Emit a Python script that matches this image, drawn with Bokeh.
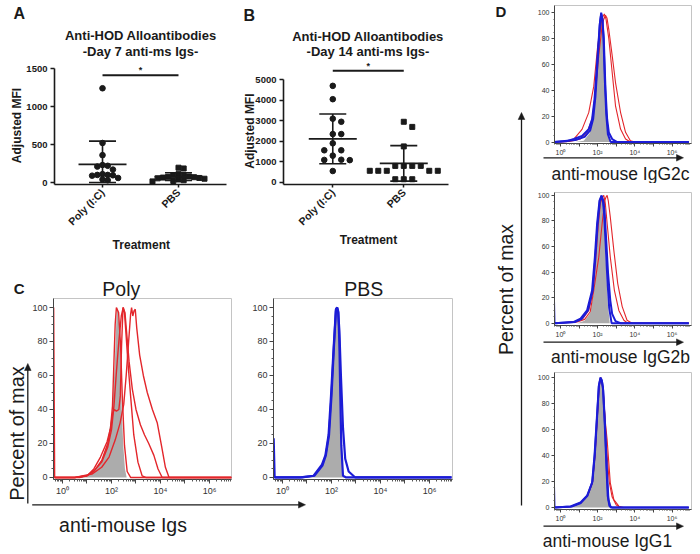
import math
import numpy as np
from bokeh.plotting import figure
from bokeh.models import Label, FixedTicker, Range1d
from bokeh.core.properties import value
from bokeh.layouts import row, column
from bokeh.embed import file_html
from bokeh.resources import INLINE

FONT = "Liberation Sans"
INK = "#1a1a1a"
RED = "#e3262b"
BLUE = "#1c1cd6"
GRAY = "#acacac"

# ---------------- data: panels A and B (Adjusted MFI) ----------------
groups = ["Poly (I:C)", "PBS"]
day7_poly = [1240, 520, 360, 230, 220, 210, 170, 110, 100, 100, 95, 90, 60, 40, 30]
day7_pbs = [195, 185, 110, 100, 95, 80, 75, 70, 65, 60, 55, 50, 40, 30, 20, 15]
day14_poly = [4700, 4050, 3100, 2950, 2350, 2350, 1900, 1560, 1560, 1300, 1100, 1090, 1080, 550]
day14_pbs = [2950, 2700, 1750, 800, 800, 800, 800, 560, 560, 560, 560, 560, 150, 150, 150]
day7_ticks = [0, 500, 1000, 1500]
day14_ticks = [0, 1000, 2000, 3000, 4000, 5000]
day7_sig = 1410
day14_sig = 5430

# ---------------- data: histograms (x = log10 intensity, y = % of max) ----------------
hist_y_ticks = [0, 20, 40, 60, 80, 100]
decades = [0, 1, 2, 3, 4, 5, 6]
decade_labels = {0: "10\u2070", 2: "10\u00b2", 4: "10\u2074", 6: "10\u2076"}

# C - Poly
cpoly_gray_x = [-0.3, 0.5, 0.9, 1.3, 1.6, 1.82, 2.02, 2.14, 2.2, 2.23, 2.27, 2.33, 2.40, 2.48, 2.55, 2.62, 6.9]
cpoly_gray_y = [0, 0, 1, 4, 10, 20, 38, 68, 93, 100, 97, 87, 48, 19, 5, 0, 0]
cpoly_r1_x = [-0.36, -0.36, -0.32, 0.7, 1.0, 1.28, 1.55, 1.82, 1.96, 2.04, 2.10, 2.15, 2.2, 2.29, 2.37, 2.44, 2.53, 2.64, 2.78, 6.9]
cpoly_r1_y = [0, 100, 0, 0, 1, 5, 12, 21, 29, 42, 68, 90, 100, 97, 78, 48, 19, 3.5, 0, 0]
cpoly_r2_x = [-0.32, 0.5, 1.0, 1.3, 1.6, 1.85, 1.98, 2.05, 2.12, 2.2, 2.3, 2.36, 2.41, 2.47, 2.53, 2.58, 2.67, 2.78, 2.91, 3.08, 3.25, 3.4, 6.9]
cpoly_r2_y = [0, 0, 1, 4, 10, 20, 30, 38, 40, 39, 40, 48, 77, 100, 97, 87, 68, 48, 25, 9, 1, 0, 0]
cpoly_r3_x = [-0.32, 0.5, 1.0, 1.3, 1.6, 1.85, 2.0, 2.1, 2.2, 2.3, 2.4, 2.48, 2.55, 2.62, 2.72, 2.85, 3.0, 3.18, 3.35, 3.52, 3.73, 3.9, 4.07, 6.9]
cpoly_r3_y = [0, 0, 1, 4, 9, 18, 28, 42, 62, 80, 95, 100, 97, 85, 68, 52, 40, 31, 25, 20, 13, 5, 0, 0]
cpoly_r4_x = [-0.32, 0.5, 1.2, 1.6, 1.9, 2.15, 2.35, 2.5, 2.6, 2.7, 2.78, 2.82, 2.87, 2.92, 2.97, 3.03, 3.15, 3.3, 3.46, 3.67, 3.87, 4.05, 4.2, 4.35, 6.9]
cpoly_r4_y = [0, 0, 2, 6, 12, 22, 32, 43, 60, 80, 96, 100, 95, 98, 99, 88, 72, 60, 50, 40, 32, 18, 6, 0, 0]

# C - PBS
cpbs_gray_x = [-0.3, 0.7, 1.27, 1.61, 1.75, 1.88, 1.98, 2.09, 2.18, 2.23, 2.28, 2.33, 2.37, 2.41, 2.46, 2.52, 6.9]
cpbs_gray_y = [0, 0, 1, 6, 11, 22, 44, 74, 97, 100, 96, 80, 50, 20, 4, 0, 0]
cpbs_b1_x = [-0.36, -0.36, -0.32, 0.73, 1.27, 1.61, 1.75, 1.88, 1.98, 2.09, 2.18, 2.23, 2.27, 2.32, 2.39, 2.47, 2.56, 2.70, 2.97, 6.9]
cpbs_b1_y = [0, 23, 0, 0, 1, 7.6, 13, 25, 48, 77, 99, 100, 98, 87, 58, 29, 11, 3.5, 0, 0]
cpbs_b2_x = [-0.32, 0.8, 1.3, 1.63, 1.77, 1.9, 2.0, 2.1, 2.18, 2.23, 2.28, 2.32, 2.36, 2.40, 2.47, 2.6, 6.9]
cpbs_b2_y = [0, 0, 1, 7, 13, 25, 48, 77, 98, 100, 97, 80, 48, 19, 1, 0, 0]

# D - IgG2c
d1_gray_x = [-0.3, 0.8, 1.25, 1.58, 1.79, 1.94, 2.05, 2.15, 2.19, 2.26, 2.33, 2.40, 2.47, 2.55, 2.62, 2.72, 6.9]
d1_gray_y = [0, 0, 1, 7, 29, 54, 80, 96, 100, 94, 78, 52, 29, 12, 4, 0, 0]
d1_b1_x = [-0.33, 0.3, 0.72, 1.16, 1.52, 1.70, 1.83, 1.97, 2.11, 2.19, 2.26, 2.33, 2.42, 2.51, 2.6, 2.78, 3.05, 6.9]
d1_b1_y = [0, 0.5, 2.3, 4.7, 9.8, 17.6, 33, 61, 90, 100, 94, 80, 41, 17.6, 7.4, 2.3, 0, 0]
d1_b2_x = [-0.33, 0.8, 1.3, 1.6, 1.76, 1.88, 2.0, 2.12, 2.19, 2.25, 2.31, 2.38, 2.46, 2.55, 2.7, 6.9]
d1_b2_y = [0, 1.5, 4, 9, 18, 35, 63, 92, 99, 96, 82, 50, 22, 6, 0, 0]
d1_r1_x = [-0.35, -0.35, -0.32, 0.5, 1.07, 1.43, 1.70, 1.88, 2.06, 2.24, 2.33, 2.42, 2.5, 2.6, 2.78, 2.96, 3.23, 3.5, 3.76, 4.0, 6.9]
d1_r1_y = [0, 100, 0, 0.5, 2.3, 7.5, 17.6, 38, 67, 90, 95, 98, 96, 87, 67, 46, 23, 7.5, 1, 0, 0]
d1_r2_x = [-0.32, 0.4, 0.72, 1.16, 1.52, 1.79, 2.0, 2.24, 2.36, 2.45, 2.6, 2.78, 2.96, 3.23, 3.5, 3.76, 6.9]
d1_r2_y = [0, 0.5, 2.3, 9.8, 22.7, 43, 74, 96, 99, 95, 80, 54, 28, 10, 2.3, 0, 0]

# D - IgG2b
d2_gray_x = [-0.3, 0.9, 1.3, 1.6, 1.8, 1.93, 2.05, 2.15, 2.21, 2.28, 2.36, 2.45, 2.55, 2.65, 6.9]
d2_gray_y = [0, 0, 2, 8, 25, 52, 80, 96, 100, 95, 78, 45, 15, 0, 0]
d2_b1_x = [-0.35, -0.35, -0.32, 0.72, 1.08, 1.43, 1.70, 1.85, 1.97, 2.10, 2.21, 2.30, 2.37, 2.46, 2.56, 2.68, 2.78, 2.96, 3.23, 6.9]
d2_b1_y = [0, 20, 0, 1, 3.6, 10, 25.6, 51.7, 77.8, 96, 100, 96, 88, 65, 39, 17.7, 7.3, 1.6, 0, 0]
d2_b2_x = [-0.32, 0.8, 1.15, 1.48, 1.74, 1.88, 2.0, 2.12, 2.21, 2.29, 2.35, 2.43, 2.52, 2.62, 2.75, 6.9]
d2_b2_y = [0, 1, 3.5, 10, 26, 52, 78, 96, 99, 95, 85, 62, 35, 12, 0, 0]
d2_r1_x = [-0.32, 0.8, 1.2, 1.52, 1.76, 1.9, 2.03, 2.15, 2.27, 2.33, 2.41, 2.51, 2.68, 2.9, 3.14, 3.41, 3.62, 6.9]
d2_r1_y = [0, 1, 3.5, 10, 25, 50, 76, 94, 99, 100, 94, 78, 51.7, 25.6, 10, 2.3, 0, 0]
d2_r2_x = [-0.32, 0.9, 1.3, 1.6, 1.79, 2.06, 2.24, 2.38, 2.46, 2.51, 2.57, 2.68, 2.87, 3.08, 3.32, 3.58, 3.85, 6.9]
d2_r2_y = [0, 1, 3, 9, 25.6, 51.7, 77.8, 96, 99, 100, 96, 83, 57, 31, 13, 2.3, 0, 0]

# D - IgG1
d3_gray_x = [-0.3, 0.6, 1.1, 1.45, 1.72, 1.85, 1.96, 2.07, 2.15, 2.22, 2.3, 2.4, 2.5, 2.6, 2.72, 6.9]
d3_gray_y = [0, 0.5, 3, 8, 18, 38, 64, 92, 99, 97, 88, 62, 32, 10, 0, 0]
d3_b1_x = [-0.35, -0.35, -0.32, 0.54, 1.08, 1.43, 1.70, 1.83, 1.94, 2.06, 2.15, 2.22, 2.28, 2.38, 2.47, 2.54, 2.63, 2.78, 6.9]
d3_b1_y = [0, 19, 0, 0.8, 3.8, 9, 19, 39.7, 65, 93, 100, 98, 93, 65, 32, 9, 1.3, 0, 0]
d3_b2_x = [-0.32, 0.6, 1.1, 1.45, 1.72, 1.85, 1.96, 2.07, 2.15, 2.23, 2.3, 2.4, 2.5, 2.58, 2.7, 6.9]
d3_b2_y = [0, 0.8, 3.5, 9, 20, 41, 67, 94, 99, 97, 90, 62, 28, 6, 0, 0]
d3_r1_x = [-0.32, 0.6, 1.1, 1.45, 1.72, 1.86, 1.97, 2.08, 2.16, 2.24, 2.32, 2.42, 2.51, 2.68, 2.87, 3.14, 3.4, 6.9]
d3_r1_y = [0, 0.8, 3.8, 9, 19, 40, 66, 93, 100, 96, 85, 65, 52, 19, 6, 1, 0, 0]
d3_r2_x = [-0.32, 0.6, 1.1, 1.45, 1.72, 1.85, 1.96, 2.07, 2.15, 2.23, 2.31, 2.4, 2.5, 2.62, 2.78, 3.0, 3.25, 6.9]
d3_r2_y = [0, 0.8, 3.5, 9, 19, 40, 65, 93, 99, 97, 88, 66, 42, 20, 8, 2, 0, 0]


# ---------------- helpers ----------------
def new_fig(w, h, bl, br, bt, bb, xr, yr, ox, oy):
    """Figure placed at page pixel (ox, oy); keeps its frame geometry."""
    p = figure(width=w, height=h, x_range=Range1d(*xr), y_range=Range1d(*yr),
               output_backend="svg", toolbar_location=None,
               min_border_left=bl, min_border_right=br, min_border_top=bt,
               min_border_bottom=bb)
    p.grid.visible = False
    fw = w - bl - br
    fh = h - bt - bb
    g = dict(fl=ox + bl, fb=oy + bt + fh, x0=xr[0], y0=yr[0],
             xpx=fw / (xr[1] - xr[0]), ypx=fh / (yr[1] - yr[0]))
    return p, g


def to_data(g, px, py):
    return g["x0"] + (px - g["fl"]) / g["xpx"], g["y0"] + (g["fb"] - py) / g["ypx"]


def add_text(p, g, x, y, text, size, bold=False, align="center", angle=0.0, color=INK):
    """(x, y) is the visual centre line of the text."""
    xd, yd = to_data(g, x, y)
    p.text(x=[xd], y=[yd], text=[text], text_font=value(FONT),
           text_font_size=value(f"{size}px"),
           text_font_style="bold" if bold else "normal",
           text_align=align, text_baseline="middle", angle=angle,
           text_color=color, level="overlay")


def add_arrow(p, g, x0, y0, x1, y1, head=True, width=1.3, hl=7.0, hw=3.3):
    L = math.hypot(x1 - x0, y1 - y0)
    ux, uy = (x1 - x0) / L, (y1 - y0) / L
    ex, ey = (x1 - ux * (hl - 1), y1 - uy * (hl - 1)) if head else (x1, y1)
    a = to_data(g, x0, y0)
    b = to_data(g, ex, ey)
    p.segment(x0=[a[0]], y0=[a[1]], x1=[b[0]], y1=[b[1]], line_color=INK,
              line_width=width, level="overlay")
    if head:
        bx, by = x1 - ux * hl, y1 - uy * hl
        pts = [(x1, y1), (bx - uy * hw, by + ux * hw), (bx + uy * hw, by - ux * hw)]
        dp = [to_data(g, px, py) for px, py in pts]
        p.patch([q[0] for q in dp], [q[1] for q in dp], fill_color=INK,
                line_color=INK, line_width=0.5, level="overlay")


def swarm(vals, center, xpx, ypx, diam):
    step = diam * 0.5
    order = sorted(range(len(vals)), key=lambda i: -vals[i])
    placed = []
    xs = [center] * len(vals)

    def candidates():
        yield 0.0
        k = 1
        while True:
            yield k * step
            yield -k * step
            k += 1

    for i in order:
        yv = vals[i] * ypx
        for off in candidates():
            if all(math.hypot(off - a, yv - b) >= diam for a, b in placed):
                break
        placed.append((off, yv))
        xs[i] = center + off / xpx
    return xs


def scatter_panel(w, h, bl, br, bt, bb, xr, yr, ox, oy, yticks, poly, pbs, sig_y, diam):
    p, g = new_fig(w, h, bl, br, bt, bb, xr, yr, ox, oy)
    p.outline_line_color = None
    xpx, ypx = g["xpx"], g["ypx"]
    for gi, (vals, marker, size) in enumerate([(poly, "circle", 5.6), (pbs, "square", 5.0)]):
        c = gi + 0.5
        xs = swarm(vals, c, xpx, ypx, diam)
        p.scatter(xs, vals, marker=marker, size=size, color=INK)
        m = float(np.mean(vals))
        s = float(np.std(vals, ddof=1))
        lo = max(m - s, 0.0)
        hi = m + s
        mw = 24 / xpx
        cw = 13.5 / xpx
        p.segment(x0=[c, c - mw, c - cw, c - cw], y0=[lo, m, hi, lo],
                  x1=[c, c + mw, c + cw, c + cw], y1=[hi, m, hi, lo],
                  line_color=INK, line_width=1.6)
    p.segment(x0=[0.5], y0=[sig_y], x1=[1.5], y1=[sig_y], line_color=INK, line_width=2)
    p.add_layout(Label(x=1.0, y=sig_y, text="*", text_font=FONT, text_font_size="9px",
                       text_font_style="bold", text_align="center",
                       text_baseline="middle", y_offset=5, text_color=INK))
    xa = p.xaxis[0]
    xa.ticker = FixedTicker(ticks=[0.5, 1.5])
    xa.major_label_overrides = {0.5: groups[0], 1.5: groups[1]}
    xa.major_label_orientation = math.pi / 4
    ya = p.yaxis[0]
    ya.ticker = FixedTicker(ticks=yticks)
    ya.bounds = (yr[0], yticks[-1])
    for ax in (xa, ya):
        ax.axis_line_width = 1.6
        ax.axis_line_color = INK
        ax.major_tick_line_color = INK
        ax.major_tick_line_width = 1.5
        ax.major_tick_in = 0
        ax.minor_tick_line_color = None
        ax.major_label_text_font = FONT
        ax.major_label_text_font_style = "bold"
        ax.major_label_text_color = INK
        ax.major_label_standoff = 3
    xa.major_tick_out = 3
    ya.major_tick_out = 4
    xa.major_label_text_font_size = "10.5px"
    ya.major_label_text_font_size = "9.5px"
    return p, g


log_minor = [n + math.log10(k) for n in range(-1, 7) for k in range(2, 10)]
y_minor = [v for v in range(5, 100, 5) if v % 20]


def hist_panel(w, h, bl, br, bt, bb, yr, decade_px, x0, ox, oy, fsize, tick, minor_tick):
    fw = w - bl - br
    p, g = new_fig(w, h, bl, br, bt, bb, (x0, x0 + fw / decade_px), yr, ox, oy)
    p.outline_line_color = "#c4c4c4"
    xa = p.xaxis[0]
    ya = p.yaxis[0]
    xa.ticker = FixedTicker(ticks=decades, minor_ticks=log_minor)
    xa.major_label_overrides = {d: decade_labels.get(d, "") for d in decades}
    ya.ticker = FixedTicker(ticks=hist_y_ticks, minor_ticks=y_minor)
    for ax in (xa, ya):
        ax.axis_line_color = "#444444"
        ax.axis_line_width = 1
        ax.major_tick_line_color = "#444444"
        ax.minor_tick_line_color = "#555555"
        ax.major_tick_in = 0
        ax.minor_tick_in = 0
        ax.major_tick_out = tick
        ax.minor_tick_out = minor_tick
        ax.major_label_text_font = FONT
        ax.major_label_text_font_size = f"{fsize}px"
        ax.major_label_text_color = "#333333"
        ax.major_label_standoff = 2
    return p, g


def draw_hist(p, gray, reds, blues, red_w, blue_w):
    p.varea(x=gray[0], y1=0, y2=gray[1], fill_color=GRAY, fill_alpha=1)
    for xs, ys in reds:
        p.line(xs, ys, line_color=RED, line_width=red_w)
    for xs, ys in blues:
        p.line(xs, ys, line_color=BLUE, line_width=blue_w)


# ---------------- panel A ----------------
pa, ga = scatter_panel(230, 270, 54, 4, 62, 86, (-0.132, 2.132), (-26, 1579), 0, 0,
                       day7_ticks, day7_poly, day7_pbs, day7_sig, 5.2)
add_text(pa, ga, 13, 12.5, "A", 16, bold=True, align="left")
add_text(pa, ga, 140.3, 34.8, "Anti-HOD Alloantibodies", 13, bold=True)
add_text(pa, ga, 140, 50.5, "-Day 7 anti-ms Igs-", 13, bold=True)
add_text(pa, ga, 16.7, 125, "Adjusted MFI", 12, bold=True, angle=math.pi / 2)
add_text(pa, ga, 140.8, 244.8, "Treatment", 12, bold=True)

# ---------------- panel B ----------------
pb, gb = scatter_panel(230, 270, 53, 12, 62, 80, (-0.194, 2.13), (-107, 5838), 230, 0,
                       day14_ticks, day14_poly, day14_pbs, day14_sig, 8.5)
add_text(pb, gb, 243, 12.5, "B", 16, bold=True, align="left")
add_text(pb, gb, 367.5, 34.8, "Anti-HOD Alloantibodies", 13, bold=True)
add_text(pb, gb, 367.5, 50.5, "-Day 14 anti-ms Igs-", 13, bold=True)
add_text(pb, gb, 249.3, 134, "Adjusted MFI", 12, bold=True, angle=math.pi / 2)
add_text(pb, gb, 368, 247.8, "Treatment", 12, bold=True)

# ---------------- panel C ----------------
pc1, gc1 = hist_panel(240, 284, 53, 9, 28, 75, (-1.2, 105.3), 24.5, -0.367, 0, 270, 9, 4, 2)
draw_hist(pc1, (cpoly_gray_x, cpoly_gray_y),
          [(cpoly_r1_x, cpoly_r1_y), (cpoly_r2_x, cpoly_r2_y),
           (cpoly_r3_x, cpoly_r3_y), (cpoly_r4_x, cpoly_r4_y)], [], 1.4, 2.2)
add_text(pc1, gc1, 13.3, 288, "C", 15, bold=True, align="left")
add_text(pc1, gc1, 120.8, 288.2, "Poly", 19.5)
add_text(pc1, gc1, 16.7, 433, "Percent of max", 20, angle=math.pi / 2)
add_text(pc1, gc1, 122.5, 524.9, "anti-mouse Igs", 19.5)
add_arrow(pc1, gc1, 27.3, 503, 27.3, 363)
add_arrow(pc1, gc1, 31.7, 504.3, 241, 504.3, head=False)

pc2, gc2 = hist_panel(220, 284, 33, 8, 28, 75, (-1.2, 105.3), 24.5, -0.367, 240, 270, 9, 4, 2)
draw_hist(pc2, (cpbs_gray_x, cpbs_gray_y), [],
          [(cpbs_b1_x, cpbs_b1_y), (cpbs_b2_x, cpbs_b2_y)], 1.4, 2.2)
add_text(pc2, gc2, 363.3, 288.2, "PBS", 19.5)
add_arrow(pc2, gc2, 239, 504.3, 305, 504.3)

# ---------------- panel D ----------------
pd1, gd1 = hist_panel(240, 183, 94, 9, 5, 40, (-1.16, 105.6), 18.6, -0.32, 460, 0, 7, 3, 1)
draw_hist(pd1, (d1_gray_x, d1_gray_y), [(d1_r1_x, d1_r1_y), (d1_r2_x, d1_r2_y)],
          [(d1_b1_x, d1_b1_y), (d1_b2_x, d1_b2_y)], 1.1, 2.0)
add_text(pd1, gd1, 495, 10.5, "D", 15, bold=True, align="left")
add_text(pd1, gd1, 620, 173, "anti-mouse IgG2c", 17.5)
add_arrow(pd1, gd1, 543, 157.3, 683, 157.3)
add_arrow(pd1, gd1, 521, 184, 521, 112)

pd2, gd2 = hist_panel(240, 185, 94, 9, 9, 43, (-1.8, 102.3), 18.6, -0.32, 460, 183, 7, 3, 1)
draw_hist(pd2, (d2_gray_x, d2_gray_y), [(d2_r1_x, d2_r1_y), (d2_r2_x, d2_r2_y)],
          [(d2_b1_x, d2_b1_y), (d2_b2_x, d2_b2_y)], 1.1, 2.0)
add_text(pd2, gd2, 505.5, 289, "Percent of max", 19.5, angle=math.pi / 2)
add_text(pd2, gd2, 620, 356.5, "anti-mouse IgG2b", 17.5)
add_arrow(pd2, gd2, 543, 341.7, 683, 341.7)
add_arrow(pd2, gd2, 521, 369, 521, 182, head=False)

pd3, gd3 = hist_panel(240, 186, 94, 9, 4, 45, (-1.54, 103.8), 18.6, -0.32, 460, 368, 7, 3, 1)
draw_hist(pd3, (d3_gray_x, d3_gray_y), [(d3_r1_x, d3_r1_y), (d3_r2_x, d3_r2_y)],
          [(d3_b1_x, d3_b1_y), (d3_b2_x, d3_b2_y)], 1.1, 2.0)
add_text(pd3, gd3, 607, 540.2, "anti-mouse IgG1", 17.5)
add_arrow(pd3, gd3, 543, 525.7, 683, 525.7)
add_arrow(pd3, gd3, 521, 505, 521, 367, head=False)

layout = row(column(row(pa, pb), row(pc1, pc2)), column(pd1, pd2, pd3))

open("out.html", "w").write(file_html(layout, INLINE, title="Anti-HOD alloantibodies"))
